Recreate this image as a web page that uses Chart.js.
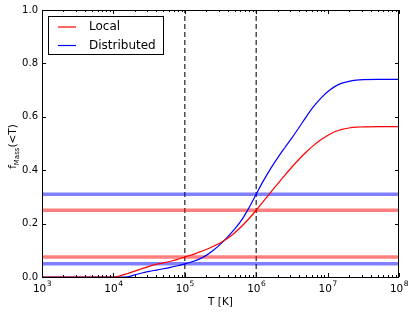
<!DOCTYPE html>
<html lang="en">
<head>
  <meta charset="UTF-8">
  <title>Mass fraction below T</title>
  <script src="https://cdn.jsdelivr.net/npm/chart.js"></script>
  <style>
    body {
      margin: 0;
      background: #fff;
    }
    .chart-box {
      width: 416px;
      height: 314px;
    }
  </style>
</head>
<body>

<div class="chart-box"><canvas id="chart" width="416" height="314"></canvas></div>

<script>
  // log10 of temperature where the curves are sampled
  const logT = [3.0, 4.0, 4.1, 4.2, 4.3, 4.4, 4.5, 4.6, 4.7, 4.8, 4.9,
                5.0, 5.1, 5.2, 5.3, 5.4, 5.5, 5.6, 5.7, 5.8, 5.9,
                6.0, 6.1, 6.2, 6.3, 6.4, 6.5, 6.6, 6.7, 6.8, 6.9,
                7.0, 7.1, 7.2, 7.3, 7.4, 7.5, 7.7, 8.0];
  const localFrac = [0, 0, 0.005, 0.013, 0.022, 0.031, 0.040, 0.047, 0.053, 0.059, 0.066,
                     0.075, 0.083, 0.093, 0.103, 0.115, 0.128, 0.145, 0.166, 0.191, 0.219,
                     0.250, 0.283, 0.316, 0.349, 0.381, 0.412, 0.441, 0.468, 0.492, 0.513,
                     0.530, 0.544, 0.553, 0.558, 0.561, 0.562, 0.563, 0.563];
  const distFrac = [0, 0, 0, 0.001, 0.008, 0.015, 0.021, 0.026, 0.031, 0.036, 0.042,
                    0.049, 0.057, 0.067, 0.081, 0.100, 0.123, 0.150, 0.180, 0.215, 0.260,
                    0.310, 0.360, 0.405, 0.446, 0.484, 0.521, 0.560, 0.600, 0.637, 0.668,
                    0.694, 0.713, 0.726, 0.733, 0.737, 0.739, 0.740, 0.740];
  // horizontal reference levels
  const localLevels = [0.25, 0.075];
  const distLevels = [0.31, 0.05];
  // vertical dashed markers
  const markerT = [1e5, 1e6];
  const xTicks = [1e3, 1e4, 1e5, 1e6, 1e7, 1e8];
  const yTicks = [0, 0.2, 0.4, 0.6, 0.8, 1.0];
  const xRange = [1e3, 1e8];

  const curve = (vals) => logT.map((l, i) => ({x: Math.pow(10, l), y: vals[i]}));
  const hline = (y) => xRange.map(x => ({x: x, y: y}));

  const datasets = [
    {label: 'Local', data: curve(localFrac), borderColor: '#ff0000', borderWidth: 1.2,
     pointRadius: 0, cubicInterpolationMode: 'monotone'},
    {label: 'Distributed', data: curve(distFrac), borderColor: '#0000ff', borderWidth: 1.2,
     pointRadius: 0, cubicInterpolationMode: 'monotone'}
  ];
  localLevels.forEach(y => datasets.push({data: hline(y), borderColor: 'rgba(255,0,0,0.5)',
    borderWidth: 3.5, pointRadius: 0}));
  distLevels.forEach(y => datasets.push({data: hline(y), borderColor: 'rgba(0,0,255,0.5)',
    borderWidth: 3.5, pointRadius: 0}));
  markerT.forEach(t => datasets.push({data: [{x: t, y: 0}, {x: t, y: 1}], borderColor: '#333',
    borderWidth: 1.3, borderDash: [5, 3], pointRadius: 0}));

  Chart.defaults.font.family = "'DejaVu Sans', sans-serif";
  Chart.defaults.color = '#000';

  // frame, inward ticks, 10^n labels, y label with subscript and the legend box
  const mplDecor = {
    id: 'mplDecor',
    afterDraw(chart) {
      const ctx = chart.ctx;
      const a = chart.chartArea;
      const xs = chart.scales.x, ys = chart.scales.y;
      ctx.save();
      ctx.strokeStyle = '#000';
      ctx.lineWidth = 1;
      ctx.strokeRect(a.left + 0.5, a.top + 0.5, a.right - a.left - 1, a.bottom - a.top);

      ctx.beginPath();
      for (let e = 3; e <= 8; e++) {
        for (let m = 1; m <= 9; m++) {
          const v = m * Math.pow(10, e);
          if (v > xRange[1]) break;
          const px = Math.round(xs.getPixelForValue(v)) + 0.5;
          const len = m === 1 ? 4 : 2;
          ctx.moveTo(px, a.bottom); ctx.lineTo(px, a.bottom - len);
          ctx.moveTo(px, a.top); ctx.lineTo(px, a.top + len);
        }
      }
      yTicks.forEach(v => {
        const py = Math.round(ys.getPixelForValue(v)) + 0.5;
        ctx.moveTo(a.left, py); ctx.lineTo(a.left + 4, py);
        ctx.moveTo(a.right, py); ctx.lineTo(a.right - 4, py);
      });
      ctx.stroke();

      // x tick labels as 10 with a raised exponent
      const base = "10.5px 'DejaVu Sans'", expo = "7.5px 'DejaVu Sans'";
      ctx.fillStyle = '#000';
      ctx.textBaseline = 'alphabetic';
      xTicks.forEach(v => {
        const e = String(Math.round(Math.log10(v)));
        ctx.font = base; const wb = ctx.measureText('10').width;
        ctx.font = expo; const we = ctx.measureText(e).width;
        const x0 = xs.getPixelForValue(v) - (wb + we) / 2;
        ctx.font = base; ctx.fillText('10', x0, a.bottom + 15);
        ctx.font = expo; ctx.fillText(e, x0 + wb + 0.5, a.bottom + 9);
      });

      // y axis title: f_Mass(<T)
      const main = "10.5px 'DejaVu Sans'", small = "7px 'DejaVu Sans'";
      ctx.font = main; const w1 = ctx.measureText('f').width, w3 = ctx.measureText('(<T)').width;
      ctx.font = small; const w2 = ctx.measureText('Mass').width;
      const total = w1 + w2 + w3;
      ctx.translate(12, (a.top + a.bottom) / 2 + 3);
      ctx.rotate(-Math.PI / 2);
      let cx = -total / 2;
      ctx.font = main; ctx.fillText('f', cx, 4); cx += w1;
      ctx.font = small; ctx.fillText('Mass', cx, 6.5); cx += w2;
      ctx.font = main; ctx.fillText('(<T)', cx, 4);
      ctx.setTransform(1, 0, 0, 1, 0, 0);

      // legend
      const items = chart.data.datasets.filter(d => d.label);
      const bx = a.left + 6, by = a.top + 6, bw = 115, bh = 38;
      ctx.fillStyle = '#fff';
      ctx.fillRect(bx, by, bw, bh);
      ctx.strokeStyle = '#000';
      ctx.strokeRect(bx + 0.5, by + 0.5, bw, bh);
      ctx.font = "12px 'DejaVu Sans'";
      ctx.textBaseline = 'middle';
      items.forEach((d, i) => {
        const ry = by + 11 + i * 18.5;
        ctx.strokeStyle = d.borderColor;
        ctx.lineWidth = 1.2;
        ctx.beginPath();
        ctx.moveTo(bx + 10, ry); ctx.lineTo(bx + 28, ry);
        ctx.stroke();
        ctx.fillStyle = '#000';
        ctx.fillText(d.label, bx + 41, ry);
      });
      ctx.restore();
    }
  };

  new Chart(document.getElementById('chart'), {
    type: 'line',
    data: {datasets: datasets},
    options: {
      responsive: false,
      animation: false,
      layout: {padding: {top: 10, right: 17, left: 0, bottom: 0}},
      plugins: {legend: {display: false}, tooltip: {enabled: false}},
      scales: {
        x: {
          type: 'logarithmic',
          min: xRange[0],
          max: xRange[1],
          border: {display: false},
          grid: {display: false, drawTicks: false},
          afterBuildTicks: s => { s.ticks = xTicks.map(v => ({value: v, major: true})); },
          afterFit: s => { s.height = 37; },
          ticks: {display: false},
          title: {display: true, text: 'T [K]', font: {size: 10.5}, padding: {top: 0, bottom: 5}}
        },
        y: {
          min: 0,
          max: 1,
          border: {display: false},
          grid: {display: false, drawTicks: false},
          afterBuildTicks: s => { s.ticks = yTicks.map(v => ({value: v})); },
          afterFit: s => { s.width = 42; },
          ticks: {padding: 4, font: {size: 10}, callback: v => v.toFixed(1)}
        }
      }
    },
    plugins: [mplDecor]
  });
</script>

</body>
</html>
